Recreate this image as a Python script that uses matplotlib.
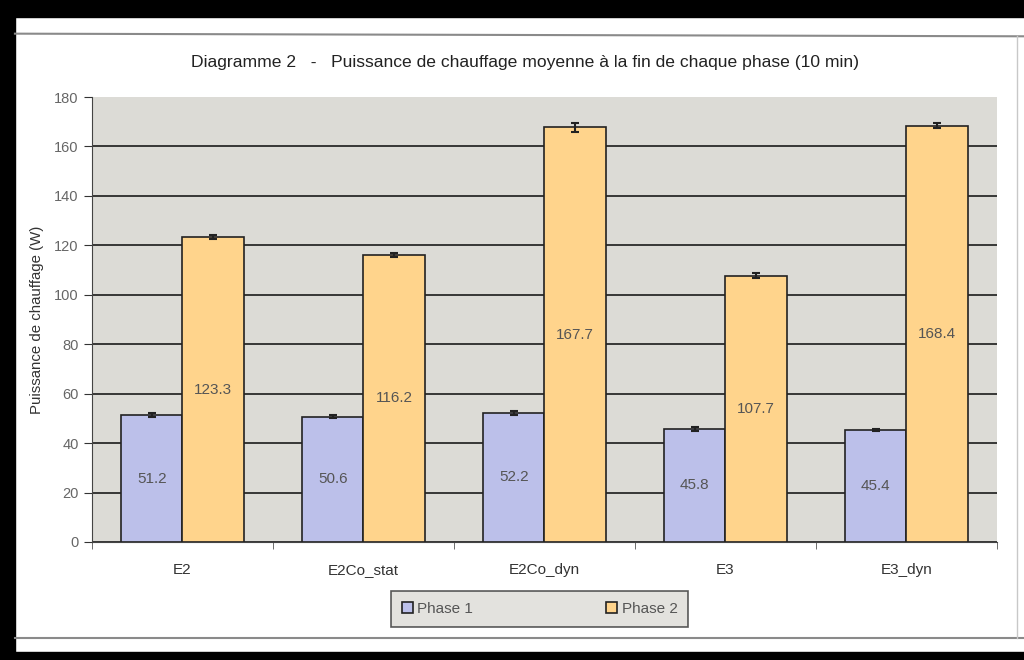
import numpy as np
import matplotlib.pyplot as plt
from matplotlib.patches import Rectangle
from matplotlib.lines import Line2D

categories = ["E2", "E2Co_stat", "E2Co_dyn", "E3", "E3_dyn"]
phase1 = [51.2, 50.6, 52.2, 45.8, 45.4]
phase2 = [123.3, 116.2, 167.7, 107.7, 168.4]
phase1_err = [0.8, 0.6, 0.7, 0.7, 0.5]
phase2_err = [0.9, 0.9, 1.8, 1.0, 1.1]
y_ticks = [0, 20, 40, 60, 80, 100, 120, 140, 160, 180]

plt.rcParams['font.family'] = ['Liberation Sans', 'DejaVu Sans']

fig = plt.figure(figsize=(10.24, 6.6), dpi=100)
fig.patch.set_facecolor('white')

# scanned page frame
fig.patches.append(Rectangle((0, 0.974), 1, 0.026, transform=fig.transFigure,
                             color='black', zorder=0))
fig.patches.append(Rectangle((0, 0), 0.0146, 1, transform=fig.transFigure,
                             color='black', zorder=0))
fig.patches.append(Rectangle((0, 0), 1, 0.012, transform=fig.transFigure,
                             color='black', zorder=0))
fig.lines.append(Line2D([0.0146, 1], [0.949, 0.945], transform=fig.transFigure,
                        color='#8a8a8a', lw=1.5))
fig.lines.append(Line2D([0.0146, 1], [0.034, 0.034], transform=fig.transFigure,
                        color='#8a8a8a', lw=1.5))
fig.lines.append(Line2D([0.993, 0.993], [0.034, 0.945], transform=fig.transFigure,
                        color='#c8c8c8', lw=1))

ax = fig.add_axes([0.0898, 0.1788, 0.8838, 0.6742])
ax.set_facecolor('#dcdbd6')

x = np.arange(len(categories))
w = 0.34
b1 = ax.bar(x - w / 2, phase1, w, color='#bcc0ea', edgecolor='#222222',
            linewidth=1.2, label='Phase 1', zorder=3)
b2 = ax.bar(x + w / 2, phase2, w, color='#ffd48c', edgecolor='#222222',
            linewidth=1.2, label='Phase 2', zorder=3)
ax.errorbar(x - w / 2, phase1, yerr=phase1_err, fmt='none', ecolor='#222222',
            elinewidth=1.5, capsize=3, capthick=1.5, zorder=4)
ax.errorbar(x + w / 2, phase2, yerr=phase2_err, fmt='none', ecolor='#222222',
            elinewidth=1.5, capsize=3, capthick=1.5, zorder=4)

for bars, vals in ((b1, phase1), (b2, phase2)):
    for rect, v in zip(bars, vals):
        ax.text(rect.get_x() + rect.get_width() / 2, v / 2, f"{v:.1f}",
                ha='center', va='center', fontsize=11, color='#555555',
                zorder=5)

ax.set_ylim(0, 180)
ax.set_xlim(-0.5, len(categories) - 0.5)
ax.set_yticks(y_ticks)
ax.yaxis.grid(True, color='#2a2a2a', linewidth=1.3, zorder=1)
ax.get_ygridlines()[-1].set_visible(False)
ax.set_axisbelow(True)
ax.set_xticks(x)
ax.set_xticklabels(categories)
ax.set_xticks(np.arange(-0.5, len(categories)), minor=True)
ax.tick_params(axis='x', which='major', length=0, pad=15, labelsize=11,
               labelcolor='#333333')
ax.tick_params(axis='x', which='minor', length=5, color='#555555')
ax.tick_params(axis='y', length=6, labelsize=10.5, labelcolor='#666666',
               color='#333333')
for s in ('top', 'right'):
    ax.spines[s].set_visible(False)
for s in ('left', 'bottom'):
    ax.spines[s].set_color('#444444')

ax.set_ylabel('Puissance de chauffage (W)', fontsize=10.8, color='#333333',
              labelpad=7)
fig.text(0.513, 0.906,
         'Diagramme 2   -   Puissance de chauffage moyenne à la fin de chaque phase (10 min)',
         ha='center', va='center', fontsize=12.6, color='#222222')

leg = fig.legend(handles=[b1, b2], loc='center',
                 bbox_to_anchor=(0.382, 0.052, 0.290, 0.05),
                 mode='expand', ncol=2, fontsize=11, frameon=True,
                 fancybox=False, handlelength=0.7, handleheight=0.7,
                 handletextpad=0.3, columnspacing=2, borderpad=0.7,
                 borderaxespad=0)
leg.get_frame().set_facecolor('#dcdbd6')
leg.get_frame().set_edgecolor('#333333')
leg.get_frame().set_linewidth(1.2)
for t in leg.get_texts():
    t.set_color('#555555')

fig.savefig('out.png', dpi=100)
